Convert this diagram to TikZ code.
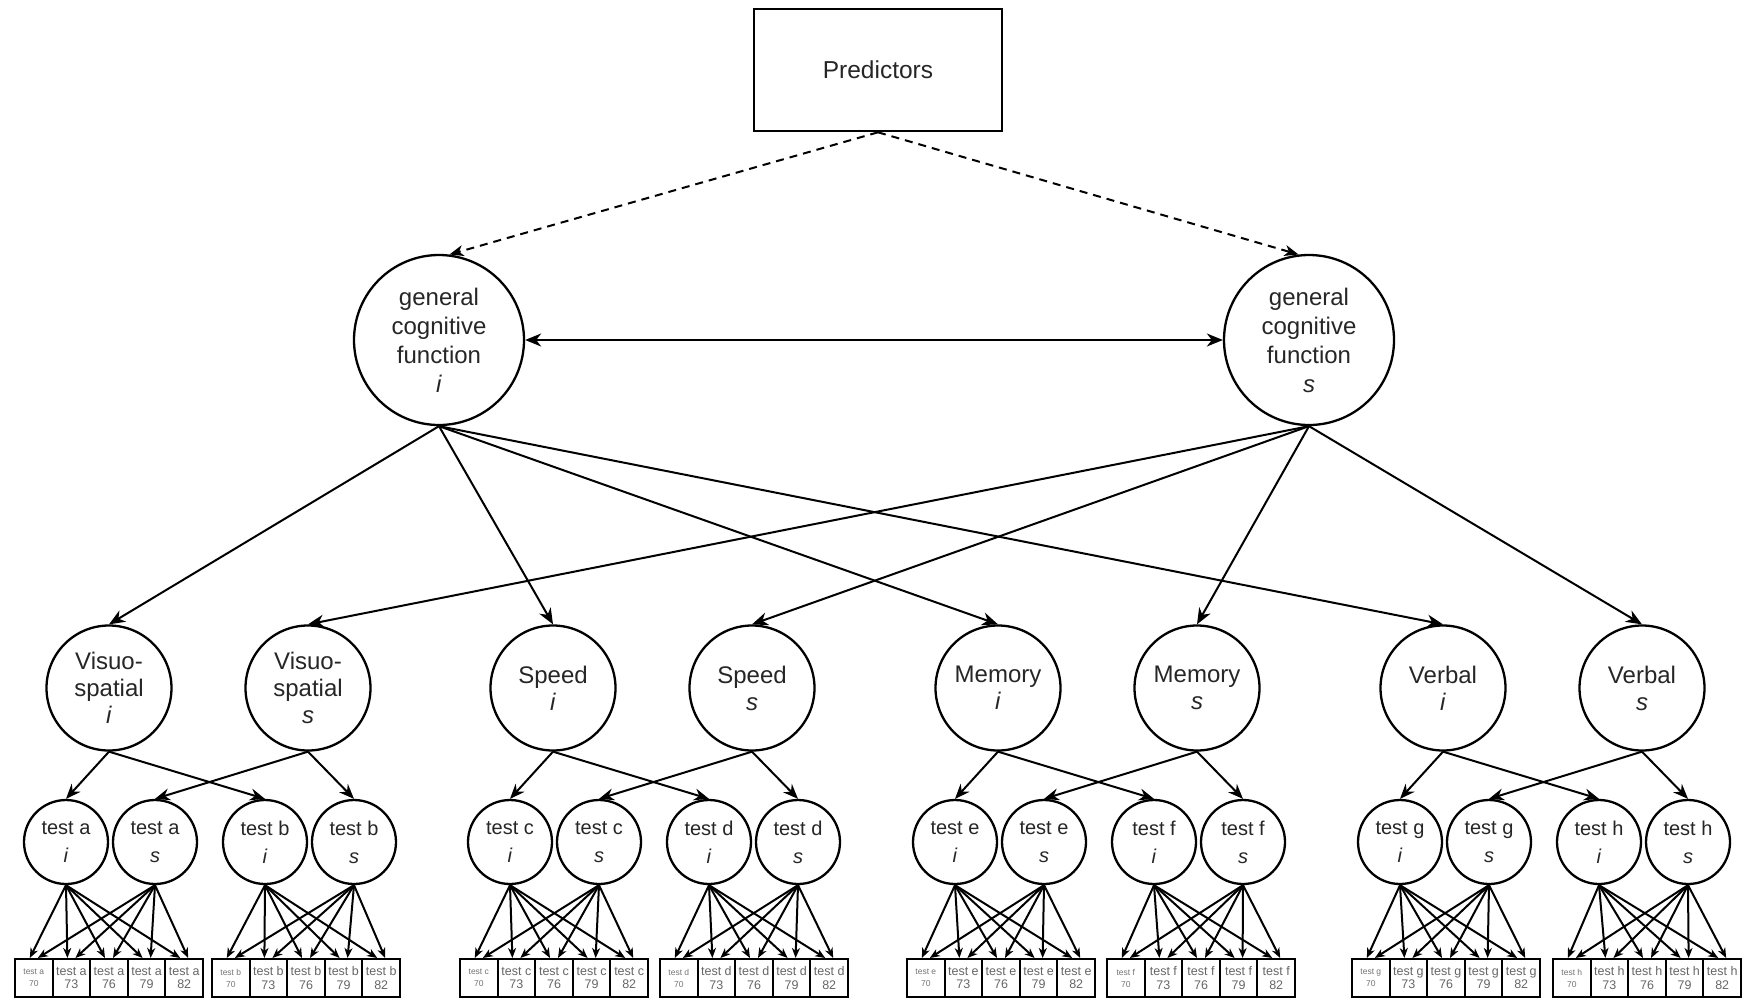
\documentclass[tikz,border=0pt]{standalone}
\usepackage{fontspec}
\setmainfont{Liberation Sans}
\usetikzlibrary{arrows.meta}
\begin{document}
\begin{tikzpicture}[x=1pt,y=-1pt,line width=2pt,
  every node/.style={text=black!85},
  predbox/.style={rectangle,draw,line width=2.6pt,minimum width=248pt,minimum height=122pt,inner sep=0pt,font=\fontsize{24.5}{28}\selectfont},
  bigc/.style={circle,draw,line width=2.3pt,minimum size=170pt,inner sep=0pt,align=center,font=\fontsize{24}{29}\selectfont},
  midc/.style={circle,draw,line width=2.3pt,minimum size=125pt,inner sep=0pt,align=center,font=\fontsize{24}{27}\selectfont},
  testc/.style={circle,draw,line width=2.3pt,minimum size=84pt,inner sep=0pt,align=center,font=\fontsize{20}{28}\selectfont},
  obs/.style={rectangle,draw,line width=2pt,minimum width=37.6pt,minimum height=38pt,inner sep=0pt,align=center,font=\fontsize{12.5}{13.5}\selectfont,text=black!60},
  obsfirst/.style={obs,font=\fontsize{8.5}{12}\selectfont,text=black!55},
  bigarrow/.style={-{Stealth[length=16pt,width=13pt,inset=5pt]}},
  dasharrow/.style={dash pattern=on 8pt off 6pt,-{Stealth[length=14pt,width=11pt,inset=4pt]}},
  midarrow/.style={-{Stealth[length=15pt,width=12pt,inset=5pt]}},
  smallarrow/.style={-{Stealth[length=10pt,width=8pt,inset=3pt]}}
]
\useasboundingbox (0,0) rectangle (1742,999);

\node[predbox] (pred) at (878,70) {Predictors};
\node[bigc] (gi) at (439,340) {general\\cognitive\\function\\\textit{i}};
\node[bigc] (gs) at (1309,340) {general\\cognitive\\function\\\textit{s}};

\draw[dasharrow] (pred.south) -- (gi.83);
\draw[dasharrow] (pred.south) -- (gs.97);
\draw[{Stealth[length=16pt,width=13pt,inset=5pt]}-{Stealth[length=16pt,width=13pt,inset=5pt]}] (gi.east) -- (gs.west);

\foreach \n/\lab/\g/\la/\lb/\ta/\tb in {1/{Visuo-\\spatial}/66/15/212/a/b,
                                         2/{Speed}/510/460/660/c/d,
                                         3/{Memory}/955/907/1107/e/f,
                                         4/{Verbal}/1400/1352/1553/g/h}{
  \node[midc] (L\n-i) at (\g+43,688) {\lab\\\textit{i}};
  \node[midc] (L\n-s) at (\g+242,688) {\lab\\\textit{s}};
  \node[testc] (T\ta-i) at (\g,842) {test \ta\\\textit{i}};
  \node[testc] (T\ta-s) at (\g+89,842) {test \ta\\\textit{s}};
  \node[testc] (T\tb-i) at (\g+199,842) {test \tb\\\textit{i}};
  \node[testc] (T\tb-s) at (\g+288,842) {test \tb\\\textit{s}};
  \draw[midarrow] (L\n-i.south) -- (T\ta-i.north);
  \draw[midarrow] (L\n-i.south) -- (T\tb-i.north);
  \draw[midarrow] (L\n-s.south) -- (T\ta-s.north);
  \draw[midarrow] (L\n-s.south) -- (T\tb-s.north);
  \node[obsfirst] (B\ta-0) at (\la+18.8,978) {test \ta\\70};
  \node[obsfirst] (B\tb-0) at (\lb+18.8,978) {test \tb\\70};
  \foreach \k/\age in {1/73,2/76,3/79,4/82}{
    \node[obs] (B\ta-\k) at (\la+18.8+\k*37.6,978) {test \ta\\\age};
    \node[obs] (B\tb-\k) at (\lb+18.8+\k*37.6,978) {test \tb\\\age};
  }
  \foreach \k in {0,...,4}{
    \draw[smallarrow] (T\ta-i.south) -- ([xshift=-4pt]B\ta-\k.north);
    \draw[smallarrow] (T\ta-s.south) -- ([xshift=4pt]B\ta-\k.north);
    \draw[smallarrow] (T\tb-i.south) -- ([xshift=-4pt]B\tb-\k.north);
    \draw[smallarrow] (T\tb-s.south) -- ([xshift=4pt]B\tb-\k.north);
  }
}
\foreach \n in {1,...,4}{
  \draw[bigarrow] (gi.south) -- (L\n-i.north);
  \draw[bigarrow] (gs.south) -- (L\n-s.north);
}
\end{tikzpicture}
\end{document}
